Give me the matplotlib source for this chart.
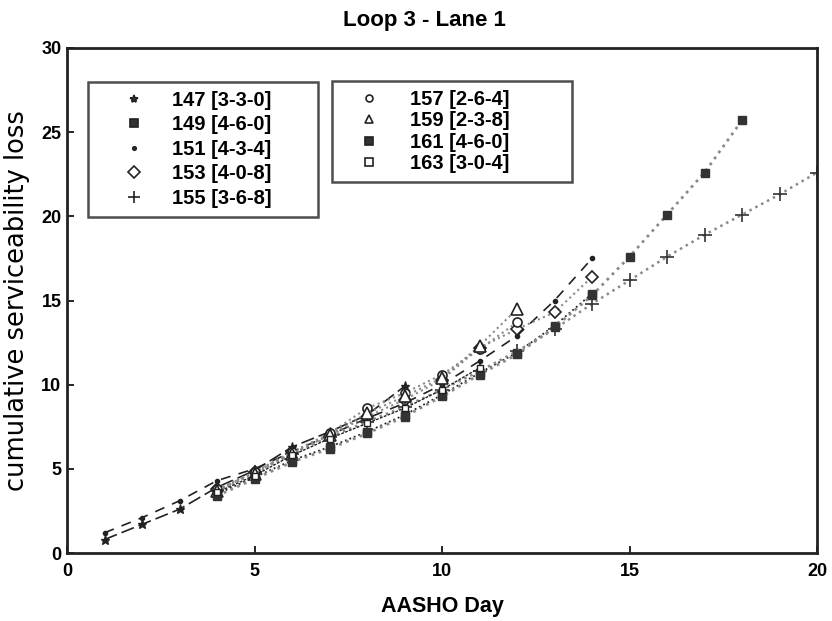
import numpy as np
import matplotlib
matplotlib.use('Agg')
import matplotlib.pyplot as plt
from matplotlib.lines import Line2D

plt.rcParams['font.family'] = ['Liberation Sans', 'DejaVu Sans']
plt.rcParams['font.weight'] = 'bold'

# sections: label, days, cumulative loss
days_147 = [1, 2, 3, 4, 5, 6, 7, 8, 9]
loss_147 = [0.8, 1.7, 2.6, 3.9, 4.9, 6.3, 7.2, 8.2, 9.9]

days_149 = [4, 5, 6, 7, 8, 9, 10, 11, 12, 13, 14]
loss_149 = [3.5, 4.5, 5.5, 6.3, 7.2, 8.2, 9.4, 10.7, 11.9, 13.5, 15.4]

days_151 = [1, 2, 3, 4, 5, 6, 7, 8, 9, 10, 11, 12, 13, 14]
loss_151 = [1.2, 2.1, 3.1, 4.3, 5.0, 6.0, 7.0, 8.0, 8.9, 10.0, 11.4, 12.9, 15.0, 17.5]

days_153 = [4, 5, 6, 7, 8, 9, 10, 11, 12, 13, 14]
loss_153 = [3.8, 4.8, 6.0, 7.0, 8.1, 9.1, 10.3, 12.2, 13.3, 14.3, 16.4]

days_155 = [4, 5, 6, 7, 8, 9, 10, 11, 12, 13, 14, 15, 16, 17, 18, 19, 20]
loss_155 = [3.7, 4.8, 5.9, 6.9, 7.8, 8.7, 9.7, 10.8, 12.0, 13.3, 14.8, 16.2, 17.6, 18.9, 20.1, 21.3, 22.6]

days_157 = [4, 5, 6, 7, 8, 9, 10, 11, 12]
loss_157 = [3.8, 4.8, 6.0, 7.1, 8.6, 9.5, 10.6, 12.1, 13.7]

days_159 = [4, 5, 6, 7, 8, 9, 10, 11, 12]
loss_159 = [3.7, 4.7, 5.9, 7.0, 8.3, 9.3, 10.4, 12.3, 14.5]

days_161 = [4, 5, 6, 7, 8, 9, 10, 11, 12, 13, 14, 15, 16, 17, 18]
loss_161 = [3.4, 4.4, 5.4, 6.2, 7.1, 8.1, 9.3, 10.6, 11.8, 13.4, 15.3, 17.6, 20.1, 22.6, 25.7]

days_163 = [4, 5, 6, 7, 8, 9, 10, 11]
loss_163 = [3.6, 4.6, 5.8, 6.8, 7.7, 8.6, 9.7, 11.0]

fig = plt.figure(figsize=(8.32, 6.21), dpi=100)
# axes frame: x 67..817 px, y 48..553 px
ax = fig.add_axes([67 / 832, (621 - 553) / 621, 750 / 832, 505 / 621])

dark = '#222222'
grey = '#8a8a8a'

ax.plot(days_147, loss_147, color=dark, ls=(0, (8, 3)), lw=1.2, marker='*', ms=6.5, mfc=dark, mec=dark)
ax.plot(days_149, loss_149, color=dark, ls=':', lw=1.3, marker='s', ms=6, mfc='#333333', mec='#333333')
ax.plot(days_151, loss_151, color=dark, ls=(0, (6, 5)), lw=1.2, marker='o', ms=3, mfc=dark, mec=dark)
ax.plot(days_153, loss_153, color=grey, ls=':', lw=1.5, marker='D', ms=6.5, mfc='white', mec=dark, mew=1.2)
ax.plot(days_155, loss_155, color=grey, ls=':', lw=1.8, marker='+', ms=10, mec='#333333', mew=1.2)
ax.plot(days_157, loss_157, color=grey, ls=':', lw=1.5, marker='o', ms=6.5, mfc='white', mec=dark, mew=1.2)
ax.plot(days_159, loss_159, color=grey, ls=':', lw=1.5, marker='^', ms=8.5, mfc='white', mec=dark, mew=1.2)
ax.plot(days_161, loss_161, color=grey, ls=':', lw=2.0, marker='s', ms=6, mfc='#333333', mec='#333333')
ax.plot(days_163, loss_163, color=dark, ls=(0, (2, 1)), lw=1.0, marker='s', ms=4, mfc='white', mec=dark)

ax.set_xlim(0, 20)
ax.set_ylim(0, 30)
ax.set_xticks([0, 5, 10, 15, 20])
ax.set_yticks([0, 5, 10, 15, 20, 25, 30])
ax.tick_params(direction='in', length=5, width=1.2, labelsize=13)
ax.tick_params(axis='x', pad=7)
ax.tick_params(axis='y', pad=4)
for s in ax.spines.values():
    s.set_linewidth(2)
    s.set_color('#222222')

ax.set_xlabel('AASHO Day', fontsize=15.5, labelpad=12, fontweight='bold')
ax.set_ylabel('cumulative serviceability loss', fontsize=18.5, labelpad=8,
              fontfamily='DejaVu Sans', fontweight='normal')
ax.set_title('Loop 3 - Lane 1', fontsize=16, pad=16, fontweight='bold', x=0.477)

def h(marker, ms, filled, mew=1.2):
    return Line2D([], [], ls='none', marker=marker, ms=ms,
                  mfc='#333333' if filled else 'white', mec='#222222', mew=mew)

left = ax.legend(
    handles=[h('*', 6, True), h('s', 6, True), h('o', 2.5, True), h('D', 6.5, False), h('+', 9, False)],
    labels=['147 [3-3-0]', '149 [4-6-0]', '151 [4-3-4]', '153 [4-0-8]', '155 [3-6-8]'],
    loc='upper left', bbox_to_anchor=(21 / 750, (553 - 82) / 505, 230 / 750, 0.0), mode='expand',
    prop={'size': 14.5, 'weight': 'bold'}, frameon=True, fancybox=False, edgecolor='#222222',
    borderpad=0.45, labelspacing=0.27, handlelength=3.7, handletextpad=0.0, borderaxespad=0)
left.get_frame().set_linewidth(1.8)
ax.add_artist(left)

right = ax.legend(
    handles=[h('o', 5, False), h('^', 6, False), h('s', 5.5, True), h('s', 5.5, False)],
    labels=['157 [2-6-4]', '159 [2-3-8]', '161 [4-6-0]', '163 [3-0-4]'],
    loc='upper left', bbox_to_anchor=(265 / 750, (553 - 81) / 505, 240 / 750, 0.0), mode='expand',
    prop={'size': 14.5, 'weight': 'bold'}, frameon=True, fancybox=False, edgecolor='#222222',
    borderpad=0.45, labelspacing=0.12, handlelength=2.8, handletextpad=0.6, borderaxespad=0)
right.get_frame().set_linewidth(1.8)

fig.savefig('out.png', dpi=100)
